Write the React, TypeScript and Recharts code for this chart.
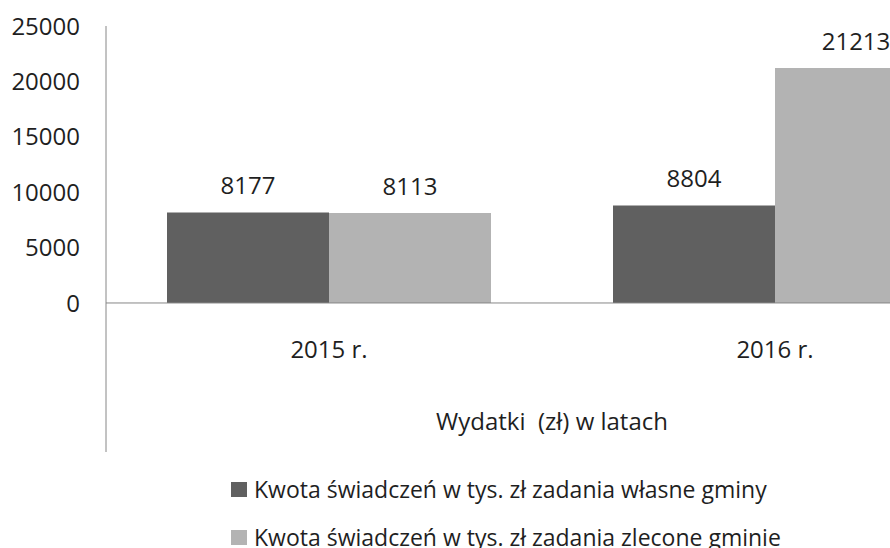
import { BarChart, Bar, XAxis, YAxis, ReferenceLine, LabelList, Legend } from "recharts";

// --- Data ---
const YEARS = ["2015 r.", "2016 r."];
const OWN_TASKS = [8177, 8804]; // zadania własne gminy
const DELEGATED_TASKS = [8113, 21213]; // zadania zlecone gminie
const Y_TICKS = [0, 5000, 10000, 15000, 20000, 25000];

const SERIES_OWN = "Kwota świadczeń w tys. zł zadania własne gminy";
const SERIES_DELEGATED = "Kwota świadczeń w tys. zł zadania zlecone gminie";
const AXIS_TITLE = "Wydatki\u00a0 (zł) w latach";

const data = YEARS.map((year, i) => ({
  year,
  own: OWN_TASKS[i],
  delegated: DELEGATED_TASKS[i],
}));

// --- Styles ---
const FONT = "'Open Sans', sans-serif";
const TEXT = "#1f1f1f";
const AXIS = "#868686";
const DARK = "#606060";
const LIGHT = "#b3b3b3";
const FS = 24;

// axis line runs below zero in the original, so the domain dips negative
const Y_DOMAIN = [-13450, 25000];

const CategoryTick = (props: any) => {
  const { x, y, payload } = props;
  return (
    <text x={x} y={y - 102} dy="0.35em" textAnchor="middle" fill={TEXT} fontSize={FS} fontFamily={FONT}>
      {payload.value}
    </text>
  );
};

const LegendContent = () => {
  const items = [
    { name: SERIES_OWN, color: DARK },
    { name: SERIES_DELEGATED, color: LIGHT },
  ];
  return (
    <div style={{ height: 95, paddingLeft: 231, paddingTop: 12, boxSizing: "border-box" }}>
      {items.map((it) => (
        <div key={it.name} style={{ display: "flex", alignItems: "center", height: 48 }}>
          <span style={{ width: 16, height: 15, background: it.color, marginRight: 7, display: "inline-block" }} />
          <span style={{ fontFamily: FONT, fontSize: 23, color: TEXT, whiteSpace: "nowrap", lineHeight: "48px" }}>
            {it.name}
          </span>
        </div>
      ))}
    </div>
  );
};

export default function App() {
  return (
    <div style={{ position: "absolute", left: 0, top: 0, width: 890, height: 548, overflow: "hidden", background: "#fff" }}>
      <BarChart
        width={1000}
        height={548}
        data={data}
        margin={{ top: 26, right: 2, bottom: 0, left: 0 }}
        barCategoryGap={61}
        barGap={0}
      >
        <YAxis
          width={106}
          domain={Y_DOMAIN}
          ticks={Y_TICKS}
          interval={0}
          axisLine={{ stroke: AXIS }}
          tickLine={false}
          tickSize={0}
          tickMargin={26}
          tick={{ fill: TEXT, fontSize: FS, fontFamily: FONT }}
        />
        <XAxis
          dataKey="year"
          height={1}
          axisLine={false}
          tickLine={false}
          tickSize={0}
          tickMargin={0}
          tick={<CategoryTick />}
          label={{
            value: AXIS_TITLE,
            position: "top",
            offset: 22,
            fill: TEXT,
            fontSize: FS,
            fontFamily: FONT,
          }}
        />
        <ReferenceLine y={0} stroke={AXIS} strokeWidth={1} />
        <Bar dataKey="own" name={SERIES_OWN} fill={DARK} isAnimationActive={false}>
          <LabelList dataKey="own" position="top" offset={18} fill={TEXT} fontSize={FS} fontFamily={FONT} />
        </Bar>
        <Bar dataKey="delegated" name={SERIES_DELEGATED} fill={LIGHT} isAnimationActive={false}>
          <LabelList dataKey="delegated" position="top" offset={18} fill={TEXT} fontSize={FS} fontFamily={FONT} />
        </Bar>
        <Legend
          verticalAlign="bottom"
          align="left"
          content={<LegendContent />}
          wrapperStyle={{ left: 0, width: 1000 }}
        />
      </BarChart>
    </div>
  );
}
